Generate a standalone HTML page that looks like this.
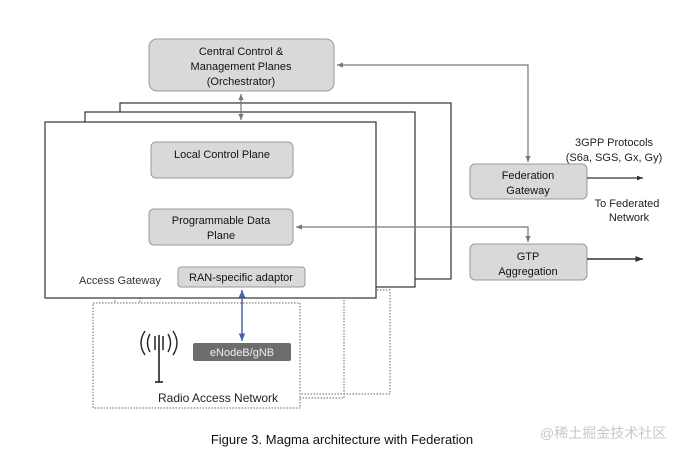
<!DOCTYPE html>
<html><head><meta charset="utf-8"><style>
body{margin:0;background:#fff;}
svg{display:block;font-family:"Liberation Sans",Arial,sans-serif;}
</style></head><body>
<svg width="681" height="455" viewBox="0 0 681 455" xmlns="http://www.w3.org/2000/svg">
<defs>
<marker id="a" markerWidth="6" markerHeight="6" refX="5" refY="3" orient="auto-start-reverse"><path d="M0,0.8 L5,3 L0,5.2z" fill="#777"/></marker>
<marker id="b" markerWidth="6" markerHeight="6" refX="5" refY="3" orient="auto-start-reverse"><path d="M0,1 L5,3 L0,5z" fill="#333"/></marker>
<marker id="c" markerWidth="6" markerHeight="6" refX="5" refY="3" orient="auto-start-reverse"><path d="M0,0.8 L5,3 L0,5.2z" fill="#4a64a8"/></marker>
</defs>
<rect x="140" y="290" width="250" height="104" fill="none" stroke="#666" stroke-dasharray="1.5,1.5"/>
<rect x="115" y="295" width="229" height="103" fill="none" stroke="#666" stroke-dasharray="1.5,1.5"/>
<rect x="120" y="103" width="331" height="176" fill="#fff" stroke="#333" stroke-width="1.2"/>
<rect x="85" y="112" width="330" height="175" fill="#fff" stroke="#333" stroke-width="1.2"/>
<rect x="93" y="303" width="207" height="105" fill="#fff" stroke="#666" stroke-dasharray="1.5,1.5"/>
<rect x="45" y="122" width="331" height="176" fill="#fff" stroke="#333" stroke-width="1.2"/>
<rect x="149" y="39" width="185" height="52" rx="8" fill="#d9d9d9" stroke="#999"/>
<text x="241" y="55" font-size="11" text-anchor="middle" fill="#111">Central Control &amp;</text>
<text x="241" y="70" font-size="11" text-anchor="middle" fill="#111">Management Planes</text>
<text x="241" y="85" font-size="11" text-anchor="middle" fill="#111">(Orchestrator)</text>
<line x1="241" y1="94" x2="241" y2="120" stroke="#777" stroke-width="1.2" marker-end="url(#a)" marker-start="url(#a)"/>
<rect x="151" y="142" width="142" height="36" rx="5" fill="#d9d9d9" stroke="#999"/>
<text x="222" y="158" font-size="11" text-anchor="middle" fill="#111">Local Control Plane</text>
<rect x="149" y="209" width="144" height="36" rx="5" fill="#d9d9d9" stroke="#999"/>
<text x="221" y="224" font-size="11" text-anchor="middle" fill="#111">Programmable Data</text>
<text x="221" y="239" font-size="11" text-anchor="middle" fill="#111">Plane</text>
<rect x="178" y="267" width="127" height="20" rx="3" fill="#d9d9d9" stroke="#999"/>
<text x="241" y="281" font-size="11" text-anchor="middle" fill="#111">RAN-specific adaptor</text>
<text x="79" y="284" font-size="11" fill="#333">Access Gateway</text>
<polyline points="528,162 528,65 337,65" fill="none" stroke="#777" stroke-width="1.2" marker-end="url(#a)" marker-start="url(#a)"/>
<polyline points="528,242 528,227 296,227" fill="none" stroke="#777" stroke-width="1.2" marker-end="url(#a)" marker-start="url(#a)"/>
<rect x="470" y="164" width="117" height="35" rx="5" fill="#d9d9d9" stroke="#999"/>
<text x="528" y="179" font-size="11" text-anchor="middle" fill="#111">Federation</text>
<text x="528" y="194" font-size="11" text-anchor="middle" fill="#111">Gateway</text>
<rect x="470" y="244" width="117" height="36" rx="5" fill="#d9d9d9" stroke="#999"/>
<text x="528" y="260" font-size="11" text-anchor="middle" fill="#111">GTP</text>
<text x="528" y="275" font-size="11" text-anchor="middle" fill="#111">Aggregation</text>
<line x1="587" y1="178" x2="643" y2="178" stroke="#333" stroke-width="1.2" marker-end="url(#b)"/>
<line x1="587" y1="259" x2="643" y2="259" stroke="#333" stroke-width="1.5" marker-end="url(#b)"/>
<text x="614" y="146" font-size="11" text-anchor="middle" fill="#222">3GPP Protocols</text>
<text x="614" y="161" font-size="11" text-anchor="middle" fill="#222">(S6a, SGS, Gx, Gy)</text>
<text x="627" y="207" font-size="11" text-anchor="middle" fill="#222">To Federated</text>
<text x="629" y="221" font-size="11" text-anchor="middle" fill="#222">Network</text>
<line x1="242" y1="290" x2="242" y2="341" stroke="#4a64a8" stroke-width="1.5" marker-end="url(#c)" marker-start="url(#c)"/>
<rect x="193" y="343" width="98" height="18" rx="2" fill="#6d6d6d"/>
<text x="242" y="356" font-size="11" text-anchor="middle" fill="#eee">eNodeB/gNB</text>
<line x1="159" y1="335" x2="159" y2="382" stroke="#222" stroke-width="1.6"/>
<line x1="155" y1="382" x2="163" y2="382" stroke="#222" stroke-width="1.6"/>
<line x1="155" y1="336" x2="155" y2="350" stroke="#222" stroke-width="1.5"/>
<line x1="163" y1="336" x2="163" y2="350" stroke="#222" stroke-width="1.5"/>
<path d="M150,334 Q145,343 150,352" fill="none" stroke="#222" stroke-width="1.4"/>
<path d="M145,331 Q137,343 145,355" fill="none" stroke="#222" stroke-width="1.4"/>
<path d="M168,334 Q173,343 168,352" fill="none" stroke="#222" stroke-width="1.4"/>
<path d="M173,331 Q181,343 173,355" fill="none" stroke="#222" stroke-width="1.4"/>
<text x="158" y="402" font-size="12" fill="#222">Radio Access Network</text>
<text x="342" y="444" font-size="13" text-anchor="middle" fill="#111">Figure 3. Magma architecture with Federation</text>
<text x="540" y="438" font-size="14" fill="#c8c8c8" font-family="'Liberation Sans','Noto Sans CJK SC',sans-serif">@稀土掘金技术社区</text>
</svg>
</body></html>
